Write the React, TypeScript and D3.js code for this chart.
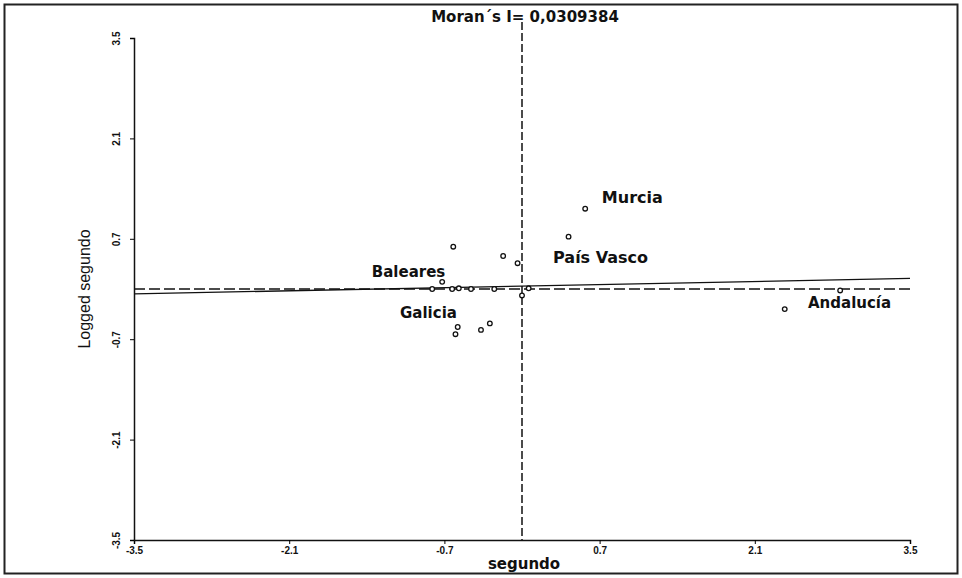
import React, { useEffect, useRef } from 'react';
import * as d3 from 'd3';

// Moran scatter: standardized value vs spatially lagged value
const xValues = [-0.62, -0.17, -0.04, -0.72, -0.81, -0.63, -0.57, -0.46, -0.25, 0.06, 0.0, -0.29, -0.37, -0.58, -0.6, 0.57, 0.42, 2.87, 2.37];
const yValues = [0.59, 0.46, 0.36, 0.1, 0.0, 0.0, 0.01, 0.0, 0.0, 0.01, -0.09, -0.48, -0.57, -0.53, -0.63, 1.12, 0.73, -0.02, -0.28];
const labels = [
  { name: 'Murcia', x: 0.72, y: 1.2 },
  { name: 'País Vasco', x: 0.28, y: 0.36 },
  { name: 'Baleares', x: -1.355, y: 0.17 },
  { name: 'Galicia', x: -1.1, y: -0.41 },
  { name: 'Andalucía', x: 2.58, y: -0.27 },
];
const tickValues = [-3.5, -2.1, -0.7, 0.7, 2.1, 3.5];
const moranI = 0.0309384;
const intercept = 0.04;

const App = () => {
  const svgRef = useRef<SVGSVGElement>(null);

  useEffect(() => {
    const width = 962;
    const height = 578;
    const svg = d3.select(svgRef.current).attr('width', width).attr('height', height);
    svg.selectAll('*').remove();

    const x = d3.scaleLinear().domain([-3.5, 3.5]).range([134, 910]);
    const y = d3.scaleLinear().domain([-3.5, 3.5]).range([540, 38]);
    const narrow = 'Liberation Sans Narrow, Liberation Sans, sans-serif';
    const wide = 'DejaVu Sans, sans-serif';

    // outer frame
    svg.append('rect')
      .attr('x', 4.5).attr('y', 4.5)
      .attr('width', width - 9).attr('height', height - 9)
      .attr('fill', '#fff').attr('stroke', '#222').attr('stroke-width', 2);

    // axes
    const xAxis = svg.append('g')
      .attr('transform', `translate(0,${y(-3.5)})`)
      .call(d3.axisBottom(x).tickValues(tickValues).tickSize(4).tickFormat((d) => (+d).toFixed(1)));
    xAxis.select('.domain').attr('stroke', '#111').attr('stroke-width', 1.5);
    xAxis.selectAll('text')
      .attr('font-family', narrow)
      .attr('font-size', 10).attr('font-weight', 'bold').attr('fill', '#111');

    const yAxis = svg.append('g')
      .attr('transform', `translate(${x(-3.5)},0)`)
      .call(d3.axisLeft(y).tickValues(tickValues).tickSize(4).tickFormat((d) => (+d).toFixed(1)));
    yAxis.select('.domain').attr('stroke', '#111').attr('stroke-width', 1.5);
    yAxis.selectAll('.tick text')
      .attr('font-family', narrow)
      .attr('font-size', 10).attr('font-weight', 'bold').attr('fill', '#111')
      .attr('x', null).attr('dy', null)
      .attr('text-anchor', 'middle')
      .attr('transform', 'translate(-14,0) rotate(-90)');

    // reference lines at zero
    svg.append('line')
      .attr('x1', x(-3.5)).attr('x2', x(3.5))
      .attr('y1', y(0)).attr('y2', y(0))
      .attr('stroke', '#111').attr('stroke-width', 1.3).attr('stroke-dasharray', '11,4');
    svg.append('line')
      .attr('x1', x(0)).attr('x2', x(0))
      .attr('y1', 22).attr('y2', y(-3.5))
      .attr('stroke', '#111').attr('stroke-width', 1.5).attr('stroke-dasharray', '8,3');

    // regression line, slope = Moran's I
    svg.append('line')
      .attr('x1', x(-3.5)).attr('x2', x(3.5))
      .attr('y1', y(intercept - 3.5 * moranI)).attr('y2', y(intercept + 3.5 * moranI))
      .attr('stroke', '#111').attr('stroke-width', 1.3);

    // points
    svg.append('g')
      .selectAll('circle')
      .data(xValues.map((v, i) => [v, yValues[i]]))
      .join('circle')
      .attr('cx', (d) => x(d[0]))
      .attr('cy', (d) => y(d[1]))
      .attr('r', 2.3)
      .attr('fill', '#fff')
      .attr('stroke', '#111')
      .attr('stroke-width', 1.3);

    // region labels
    svg.append('g')
      .selectAll('text')
      .data(labels)
      .join('text')
      .attr('x', (d) => x(d.x))
      .attr('y', (d) => y(d.y))
      .attr('font-family', wide)
      .attr('font-weight', 'bold')
      .attr('font-size', (d) => (d.name === 'País Vasco' || d.name === 'Murcia' ? 16 : 15))
      .attr('fill', '#111')
      .text((d) => d.name);

    // title and axis titles
    svg.append('text')
      .attr('x', 525).attr('y', 22)
      .attr('text-anchor', 'middle')
      .attr('font-family', wide)
      .attr('font-weight', 'bold').attr('font-size', 15).attr('fill', '#111')
      .text(`Moran´s I= ${String(moranI).replace('.', ',')}`);

    svg.append('text')
      .attr('x', 524).attr('y', 569)
      .attr('text-anchor', 'middle')
      .attr('font-family', wide)
      .attr('font-weight', 'bold').attr('font-size', 15).attr('fill', '#111')
      .text('segundo');

    svg.append('text')
      .attr('transform', `translate(90,${y(0)}) rotate(-90)`)
      .attr('text-anchor', 'middle')
      .attr('font-family', narrow)
      .attr('font-size', 16).attr('fill', '#111')
      .text('Logged segundo');
  }, []);

  return <svg ref={svgRef} style={{ position: 'absolute', left: 0, top: 0 }} />;
};

export default App;
